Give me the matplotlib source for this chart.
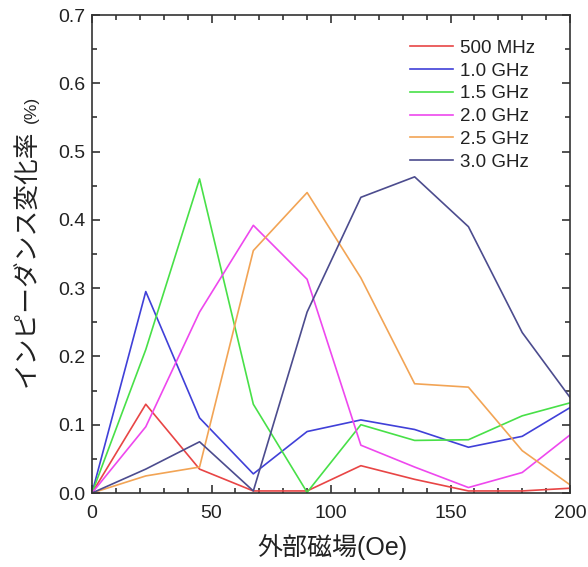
import matplotlib
matplotlib.use("Agg")
import matplotlib.pyplot as plt
from matplotlib.ticker import MultipleLocator

plt.rcParams["font.family"] = ["Liberation Sans", "Noto Sans CJK JP", "DejaVu Sans"]

field = [0, 22.5, 45, 67.5, 90, 112.5, 135, 157.5, 180, 200]
labels = ["500 MHz", "1.0 GHz", "1.5 GHz", "2.0 GHz", "2.5 GHz", "3.0 GHz"]
mhz500 = [0, 0.130, 0.035, 0.003, 0.003, 0.040, 0.020, 0.003, 0.003, 0.007]
ghz10 = [0, 0.295, 0.110, 0.028, 0.090, 0.107, 0.093, 0.067, 0.083, 0.125]
ghz15 = [0, 0.210, 0.460, 0.130, 0.001, 0.100, 0.077, 0.078, 0.113, 0.132]
ghz20 = [0, 0.097, 0.265, 0.392, 0.313, 0.070, 0.038, 0.008, 0.030, 0.085]
ghz25 = [0, 0.025, 0.038, 0.355, 0.440, 0.315, 0.160, 0.155, 0.062, 0.012]
ghz30 = [0, 0.035, 0.075, 0.003, 0.265, 0.433, 0.463, 0.390, 0.235, 0.140]

series = [mhz500, ghz10, ghz15, ghz20, ghz25, ghz30]
colors = ["#e84545", "#4040d8", "#48e048", "#ee48ee", "#f2a455", "#4c4c8e"]

W, H = 588, 567
fig = plt.figure(figsize=(W / 100, H / 100), dpi=100)
ax = fig.add_axes([92 / W, 1 - 493 / H, 478 / W, 478 / H])

for vals, lab, c in zip(series, labels, colors):
    ax.plot(field, vals, color=c, linewidth=1.2, label=lab)

ax.set_xlim(0, 200)
ax.set_ylim(0, 0.7)
ax.xaxis.set_major_locator(MultipleLocator(50))
ax.xaxis.set_minor_locator(MultipleLocator(10))
ax.yaxis.set_major_locator(MultipleLocator(0.1))
ax.yaxis.set_minor_locator(MultipleLocator(0.05))
ax.yaxis.set_major_formatter(plt.FormatStrFormatter("%.1f"))
ax.tick_params(which="both", direction="in", top=True, right=True, labelsize=14,
               width=1.2, colors="#333333", labelcolor="#222222")
ax.tick_params(which="major", length=6)
ax.tick_params(which="minor", length=3.5)
ax.tick_params(axis="x", pad=8.5)
ax.tick_params(axis="y", pad=5)
for s in ax.spines.values():
    s.set_linewidth(1.2)
    s.set_color("#333333")

# axis titles (Japanese part larger than the unit, as in the original)
fig.text(332 / W, 1 - 547 / H, "外部磁場(Oe)", fontsize=18, color="#222222",
         ha="center", va="center")
fig.text(28 / W, 1 - 387 / H, "インピーダンス変化率", fontsize=18.5, color="#222222",
         rotation=90, ha="center", va="bottom")
fig.text(31 / W, 1 - 96 / H, "(%)", fontsize=12.5, color="#222222",
         rotation=90, ha="center", va="top")

leg = ax.legend(loc="upper left", frameon=False, fontsize=13.5, handlelength=2.3,
                handletextpad=0.37, labelspacing=0.3, borderpad=0, borderaxespad=0,
                bbox_to_anchor=(0.665, 0.948))
for t in leg.get_texts():
    t.set_color("#222222")

fig.savefig("out.png", dpi=100)
